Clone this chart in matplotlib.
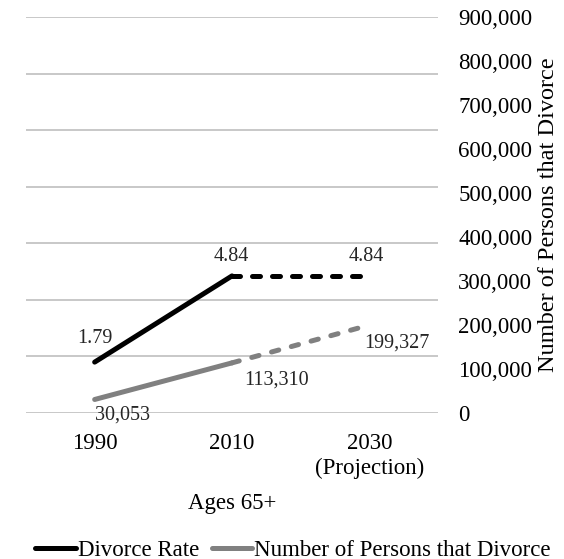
import matplotlib
matplotlib.use("Agg")
import matplotlib.pyplot as plt
import numpy as np
from matplotlib.ticker import FuncFormatter

plt.rcParams['font.family'] = ['Liberation Serif', 'DejaVu Serif']

# data
years = ['1990', '2010', '2030\n(Projection)']
divorce_rate = [1.79, 4.84, 4.84]
persons = [30053, 113310, 199327]
rate_labels = ['1.79', '4.84', '4.84']
persons_labels = ['30,053', '113,310', '199,327']

# label offsets in pixels (dx, dy)
rate_offsets = [(0, 24), (-1, 19), (-3, 19)]
persons_offsets = [(28, -16), (45, -17), (28, -18)]

black = '#000000'
grey = '#808080'
lw = 3.6

fig = plt.figure(figsize=(5.64, 5.59), dpi=100)
ax = fig.add_axes([26/564, 1 - 412.7/559, 412/564, 395.7/559])
ax2 = ax.twinx()

x = np.arange(len(years))

# left axis: divorce rate (labels hidden, gridlines shown)
ax.set_ylim(0, 14)
ax.set_yticks(np.arange(0, 15, 2))
ax.yaxis.grid(True, color='#bfbfbf', linewidth=1.2)
ax.set_axisbelow(True)
ax.tick_params(axis='y', left=False, labelleft=False)
ax.set_xlim(-0.5, len(years) - 0.5)
ax.set_xticks(x)
ax.set_xticklabels(years, fontsize=16.5, linespacing=1.25)
ax.tick_params(axis='x', bottom=False, pad=11)
for s in ax.spines.values():
    s.set_visible(False)
for s in ax2.spines.values():
    s.set_visible(False)

rate_line, = ax.plot(x[:2], divorce_rate[:2], color=black, lw=lw,
                     solid_capstyle='round')
ax.plot(x[1:], divorce_rate[1:], color=black, lw=lw, dashes=(1.6, 2.4),
        dash_capstyle='round')

# right axis: number of persons
ax2.set_ylim(0, 900000)
ax2.set_yticks(np.arange(0, 900001, 100000))
ax2.yaxis.set_major_formatter(FuncFormatter(lambda v, p: f'{v:,.0f}'))
ax2.tick_params(axis='y', right=False, labelsize=16.5, pad=11)
ax2.set_ylabel('Number of Persons that Divorce', fontsize=17.5, labelpad=4)

pers_line, = ax2.plot(x[:2], persons[:2], color=grey, lw=lw,
                      solid_capstyle='round')
ax2.plot(x[1:], persons[1:], color=grey, lw=lw, dashes=(1.5, 2.6),
         dash_capstyle='round')

# data labels
for xi, v, t, off in zip(x, divorce_rate, rate_labels, rate_offsets):
    ax.annotate(t, (xi, v), xytext=off, textcoords='offset pixels',
                ha='center', va='center', fontsize=14.5, color='#262626')
for xi, v, t, off in zip(x, persons, persons_labels, persons_offsets):
    ax2.annotate(t, (xi, v), xytext=off, textcoords='offset pixels',
                 ha='center', va='center', fontsize=14.5, color='#262626')

fig.text(232/564, 1 - 503/559, 'Ages 65+', ha='center', va='center',
         fontsize=16.5)

fig.legend([rate_line, pers_line], ['Divorce Rate', 'Number of Persons that Divorce'],
           loc='center', bbox_to_anchor=(293/564, 1 - 550/559), ncol=2,
           frameon=False, fontsize=16.5, handlelength=1.75, handletextpad=0.1,
           columnspacing=0.55, borderpad=0)

fig.savefig('out.png', dpi=100)
